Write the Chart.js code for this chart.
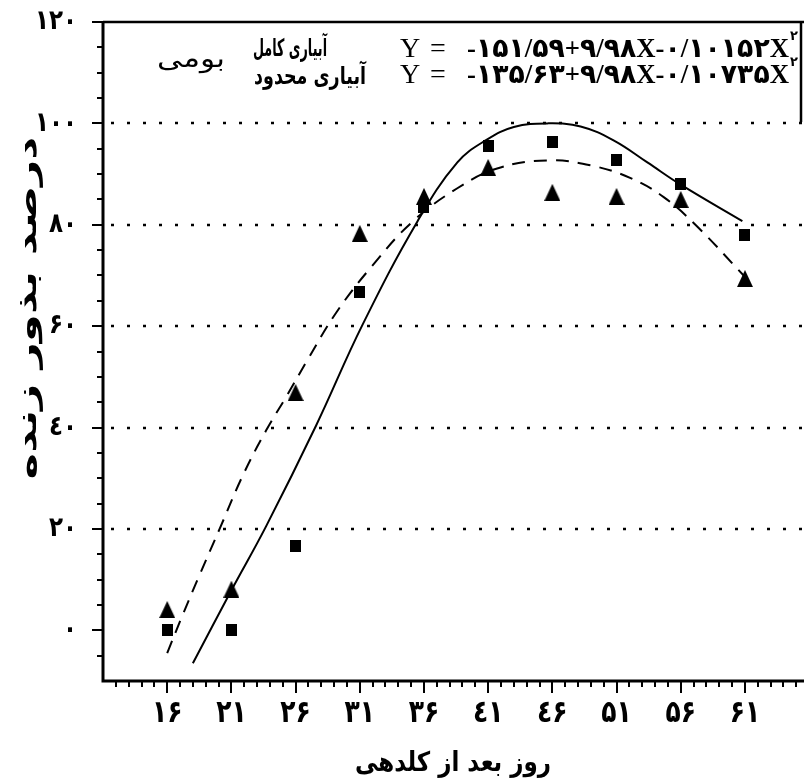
<!DOCTYPE html>
<html>
<head>
<meta charset="utf-8">
<script src="https://cdn.jsdelivr.net/npm/chart.js@4.4.1/dist/chart.umd.min.js"></script>
<style>
  html, body { margin: 0; padding: 0; background: #fff; overflow: hidden; }
  canvas { display: block; }
</style>
</head>
<body>
<canvas id="chart" width="804" height="782"></canvas>
<script>
// observed points (days after flowering / viable seed %)
const days = [16, 21, 26, 31, 36, 41, 46, 51, 56, 61];
const fullIrrigation = [0, 0, 16.6, 66.8, 83.6, 95.5, 96.4, 92.7, 88, 77.9];
const limitedIrrigation = [4.1, 8.1, 46.9, 78.3, 85.6, 91.3, 86.4, 85.6, 85, 69.4];

// fitted curves
const fullCurveDays = [18, 21, 23.7, 27.6, 31.2, 35.5, 38.6, 40.9, 43, 45.6, 48.2, 50.8, 53.4, 56, 60.8];
const fullCurveValues = [-6.5, 7.9, 20.5, 40.4, 60.2, 80.7, 92.3, 96.8, 99.3, 100, 99.4, 96.6, 92.3, 87.9, 80.7];
const limitedCurveDays = [16, 17.1, 18.5, 20.1, 21.9, 23.7, 25.3, 26.9, 29.2, 32, 35.1, 38.6, 41.7, 45.6, 49, 52.1, 54.7, 57.3, 60.9];
const limitedCurveValues = [-4.5, 2.4, 10.8, 20.1, 30.6, 39.4, 46.2, 53.2, 62.8, 72, 80.6, 87.2, 91.1, 92.7, 91.7, 89.2, 85.4, 79.6, 70];

const xTickLabels = ['۱۶', '۲۱', '۲۶', '۳۱', '۳۶', '٤۱', '٤۶', '۵۱', '۵۶', '۶۱'];
const yTicks = [0, 20, 40, 60, 80, 100, 120];
const yTickLabels = ['۰', '۲۰', '٤۰', '۶۰', '۸۰', '۱۰۰', '۱۲۰'];
const gridValues = [20, 40, 60, 80, 100];

const xTitle = 'روز بعد از کلدهی';
const yTitle = 'درصد بذور زنده';
const fullLabel = 'آبیاری کامل';
const limitedLabel = 'آبیاری محدود';
const varietyLabel = 'بومی';
const fullEquation = '-۱۵۱/۵۹+۹/۹۸X-۰/۱۰۱۵۲X';
const limitedEquation = '-۱۳۵/۶۳+۹/۹۸X-۰/۱۰۷۳۵X';

const FONT = "'DejaVu Sans'";

function markImage(kind) {
  const c = document.createElement('canvas');
  const g = c.getContext('2d');
  if (kind === 'square') {
    c.width = 11; c.height = 12;
    g.fillStyle = '#000';
    g.fillRect(0, 0, 11, 12);
  } else {
    c.width = 16; c.height = 17;
    g.fillStyle = '#000';
    g.beginPath();
    g.moveTo(8, 0); g.lineTo(16, 17); g.lineTo(0, 17);
    g.closePath(); g.fill();
  }
  return c;
}

const pairs = (xs, ys) => xs.map((x, i) => ({ x, y: ys[i] }));

// draws text scaled to a given width (and optional vertical stretch)
function fitText(ctx, text, x, y, width, font, align, sy) {
  ctx.save();
  ctx.font = font;
  const w = ctx.measureText(text).width;
  ctx.textAlign = 'left';
  const left = align === 'right' ? x - width : align === 'center' ? x - width / 2 : x;
  ctx.translate(left, y);
  ctx.scale(width / w, sy || 1);
  ctx.fillText(text, 0, 0);
  ctx.restore();
}

function tallText(ctx, text, x, y, align, sy) {
  ctx.save();
  ctx.textAlign = align;
  ctx.textBaseline = 'middle';
  ctx.translate(x, y);
  ctx.scale(1, sy);
  ctx.fillText(text, 0, 0);
  ctx.restore();
}

const frame = {
  id: 'frame',
  beforeDatasetsDraw(chart) {
    const { ctx, chartArea: a, scales: { x, y } } = chart;
    ctx.save();
    ctx.strokeStyle = '#000';

    // dotted grid lines
    ctx.lineWidth = 2.5;
    ctx.setLineDash([3, 13]);
    gridValues.forEach(v => {
      const py = Math.round(y.getPixelForValue(v));
      ctx.beginPath();
      ctx.moveTo(a.left + 8, py);
      ctx.lineTo(a.right, py);
      ctx.stroke();
    });
    ctx.setLineDash([]);

    // axes + top frame
    ctx.lineWidth = 3;
    ctx.beginPath();
    ctx.moveTo(a.left, a.top);
    ctx.lineTo(a.left, a.bottom);
    ctx.lineTo(a.right, a.bottom);
    ctx.stroke();
    ctx.lineWidth = 2.5;
    ctx.beginPath();
    ctx.moveTo(a.left, a.top);
    ctx.lineTo(a.right, a.top);
    ctx.moveTo(a.right - 3, a.top);
    ctx.lineTo(a.right - 3, a.top + 100);
    ctx.stroke();

    // y ticks every 5, major every 20
    ctx.lineWidth = 2;
    for (let v = -5; v <= 120; v += 5) {
      const py = Math.round(y.getPixelForValue(v));
      const len = v % 20 === 0 ? 11 : 6;
      ctx.beginPath();
      ctx.moveTo(a.left - len, py);
      ctx.lineTo(a.left, py);
      ctx.stroke();
    }
    // x ticks every day, major at labelled days
    for (let d = 12; d <= 65; d++) {
      const px = Math.round(x.getPixelForValue(d));
      const len = days.includes(d) ? 12 : 6;
      ctx.beginPath();
      ctx.moveTo(px, a.bottom);
      ctx.lineTo(px, a.bottom + len);
      ctx.stroke();
    }

    // tick labels
    ctx.fillStyle = '#000';
    ctx.font = 'bold 25px ' + FONT;
    days.forEach((d, i) => tallText(ctx, xTickLabels[i], x.getPixelForValue(d), a.bottom + 33, 'center', 1.25));
    ctx.font = 'bold 23px ' + FONT;
    yTicks.forEach((v, i) => tallText(ctx, yTickLabels[i], a.left - 26, y.getPixelForValue(v), 'right', 1.2));
    ctx.restore();
  },
  afterDraw(chart) {
    const { ctx } = chart;
    ctx.save();
    ctx.fillStyle = '#000';
    ctx.textBaseline = 'alphabetic';

    // equations
    const serif = "bold 27px 'Liberation Serif', " + FONT;
    ctx.font = "28px 'Liberation Serif'";
    ctx.textAlign = 'left';
    ctx.fillText('Y', 400, 57);
    ctx.fillText('=', 430, 57);
    ctx.fillText('Y', 400, 83);
    ctx.fillText('=', 430, 83);
    fitText(ctx, fullEquation, 467, 57, 322, serif, 'left');
    fitText(ctx, limitedEquation, 467, 83, 322, serif, 'left');
    ctx.font = 'bold 13px ' + FONT;
    ctx.fillText('۲', 790, 40);
    ctx.fillText('۲', 790, 66);

    // series names
    fitText(ctx, fullLabel, 327, 56, 74, 'bold 21px ' + FONT, 'right', 1.15);
    fitText(ctx, limitedLabel, 366, 84, 112, 'bold 21px ' + FONT, 'right', 1.15);
    fitText(ctx, varietyLabel, 225, 67, 68, '23px ' + FONT, 'right', 1.1);

    // axis titles
    fitText(ctx, xTitle, 453, 771, 196, 'bold 27px ' + FONT, 'center');
    ctx.save();
    ctx.translate(36, 308);
    ctx.rotate(-Math.PI / 2);
    fitText(ctx, yTitle, 0, 0, 343, 'bold 27px ' + FONT, 'center');
    ctx.restore();

    ctx.restore();
  }
};

new Chart(document.getElementById('chart'), {
  type: 'scatter',
  data: {
    datasets: [
      {
        type: 'line',
        data: pairs(fullCurveDays, fullCurveValues),
        borderColor: '#000',
        borderWidth: 2,
        pointRadius: 0,
        tension: 0.4,
        fill: false
      },
      {
        type: 'line',
        data: pairs(limitedCurveDays, limitedCurveValues),
        borderColor: '#000',
        borderWidth: 2,
        borderDash: [13, 9],
        pointRadius: 0,
        tension: 0.4,
        fill: false
      },
      {
        data: pairs(days, fullIrrigation),
        pointStyle: markImage('square'),
        pointRadius: 6
      },
      {
        data: pairs(days, limitedIrrigation),
        pointStyle: markImage('triangle'),
        pointRadius: 8
      }
    ]
  },
  options: {
    animation: false,
    responsive: false,
    devicePixelRatio: 1,
    layout: { autoPadding: false, padding: { top: 22, right: 0, left: 0, bottom: 0 } },
    plugins: {
      legend: { display: false },
      tooltip: { enabled: false }
    },
    scales: {
      x: {
        type: 'linear',
        min: 11,
        max: 65.6,
        afterBuildTicks: s => { s.ticks = days.map(v => ({ value: v })); },
        afterFit: s => { s.height = 101; },
        grid: { display: false, drawTicks: false },
        border: { display: false },
        ticks: { display: false }
      },
      y: {
        min: -10,
        max: 120,
        afterBuildTicks: s => { s.ticks = yTicks.map(v => ({ value: v })); },
        afterFit: s => { s.width = 103; },
        grid: { display: false, drawTicks: false },
        border: { display: false },
        ticks: { display: false }
      }
    }
  },
  plugins: [frame]
});
</script>
</body>
</html>
